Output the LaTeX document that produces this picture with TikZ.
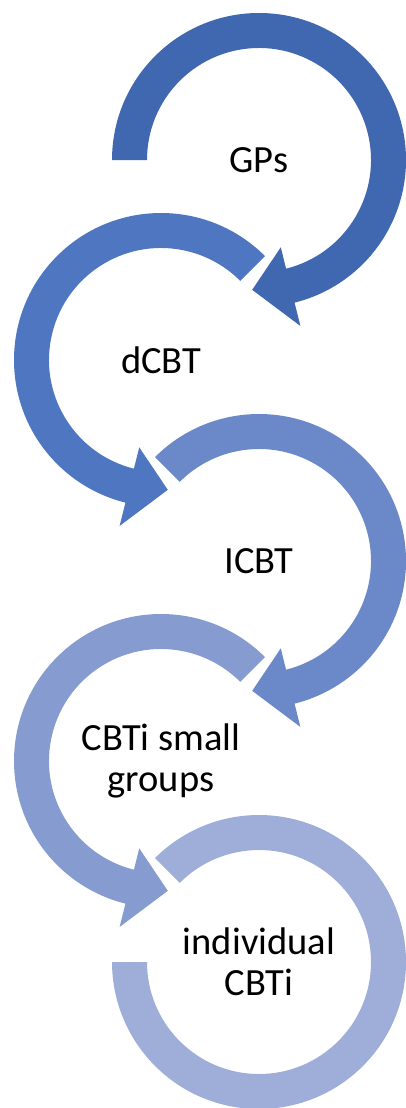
\documentclass[tikz,border=0pt]{standalone}
\usepackage{fontspec}
\setmainfont{Carlito}
\definecolor{ca}{HTML}{3F68B0}
\definecolor{cb}{HTML}{4F76C0}
\definecolor{cc}{HTML}{6B89C8}
\definecolor{cd}{HTML}{869CD0}
\definecolor{ce}{HTML}{9EAED8}
\tikzset{
  label text/.style={align=center, font=\fontsize{38.5}{41}\selectfont, text=black, inner sep=0pt},
}
\begin{document}
\begin{tikzpicture}[x=1pt,y=1pt]
\useasboundingbox (0,0) rectangle (406,-1108);
\coordinate (C1) at (259,-160);
\coordinate (C2) at (161,-360);
\coordinate (C3) at (259,-561);
\coordinate (C4) at (161,-761);
\coordinate (C5) at (259,-962);
% circle 1: clockwise from 180 to -76, arrow head
\begin{scope}[shift={(C1)}]
\fill[ca] (180:147) arc[start angle=180,end angle=-76,radius=147]
  -- (-76:171) -- (-93:130) -- (-76:90) -- (-76:112)
  arc[start angle=-76,end angle=180,radius=112] -- cycle;
\end{scope}
% circle 2: counterclockwise from 45 to 256
\begin{scope}[shift={(C2)}]
\fill[cb] (45:147) arc[start angle=45,end angle=256,radius=147]
  -- (256:171) -- (273:130) -- (256:90) -- (256:112)
  arc[start angle=256,end angle=45,radius=112] -- cycle;
\end{scope}
% circle 3
\begin{scope}[shift={(C3)}]
\fill[cc] (135:147) arc[start angle=135,end angle=-76,radius=147]
  -- (-76:171) -- (-93:130) -- (-76:90) -- (-76:112)
  arc[start angle=-76,end angle=135,radius=112] -- cycle;
\end{scope}
% circle 4
\begin{scope}[shift={(C4)}]
\fill[cd] (45:147) arc[start angle=45,end angle=256,radius=147]
  -- (256:171) -- (273:130) -- (256:90) -- (256:112)
  arc[start angle=256,end angle=45,radius=112] -- cycle;
\end{scope}
% circle 5: no arrow head
\begin{scope}[shift={(C5)}]
\fill[ce] (135:147) arc[start angle=135,end angle=-180,radius=147]
  -- (-180:112)
  arc[start angle=-180,end angle=135,radius=112] -- cycle;
\end{scope}
\node[label text] (t1) at (C1) {GPs};
\node[label text] (t2) at (C2) {dCBT};
\node[label text] (t3) at (C3) {ICBT};
\node[label text] (t4) at (C4) {CBTi small\\groups};
\node[label text] (t5) at (C5) {individual\\CBTi};
\end{tikzpicture}
\end{document}
